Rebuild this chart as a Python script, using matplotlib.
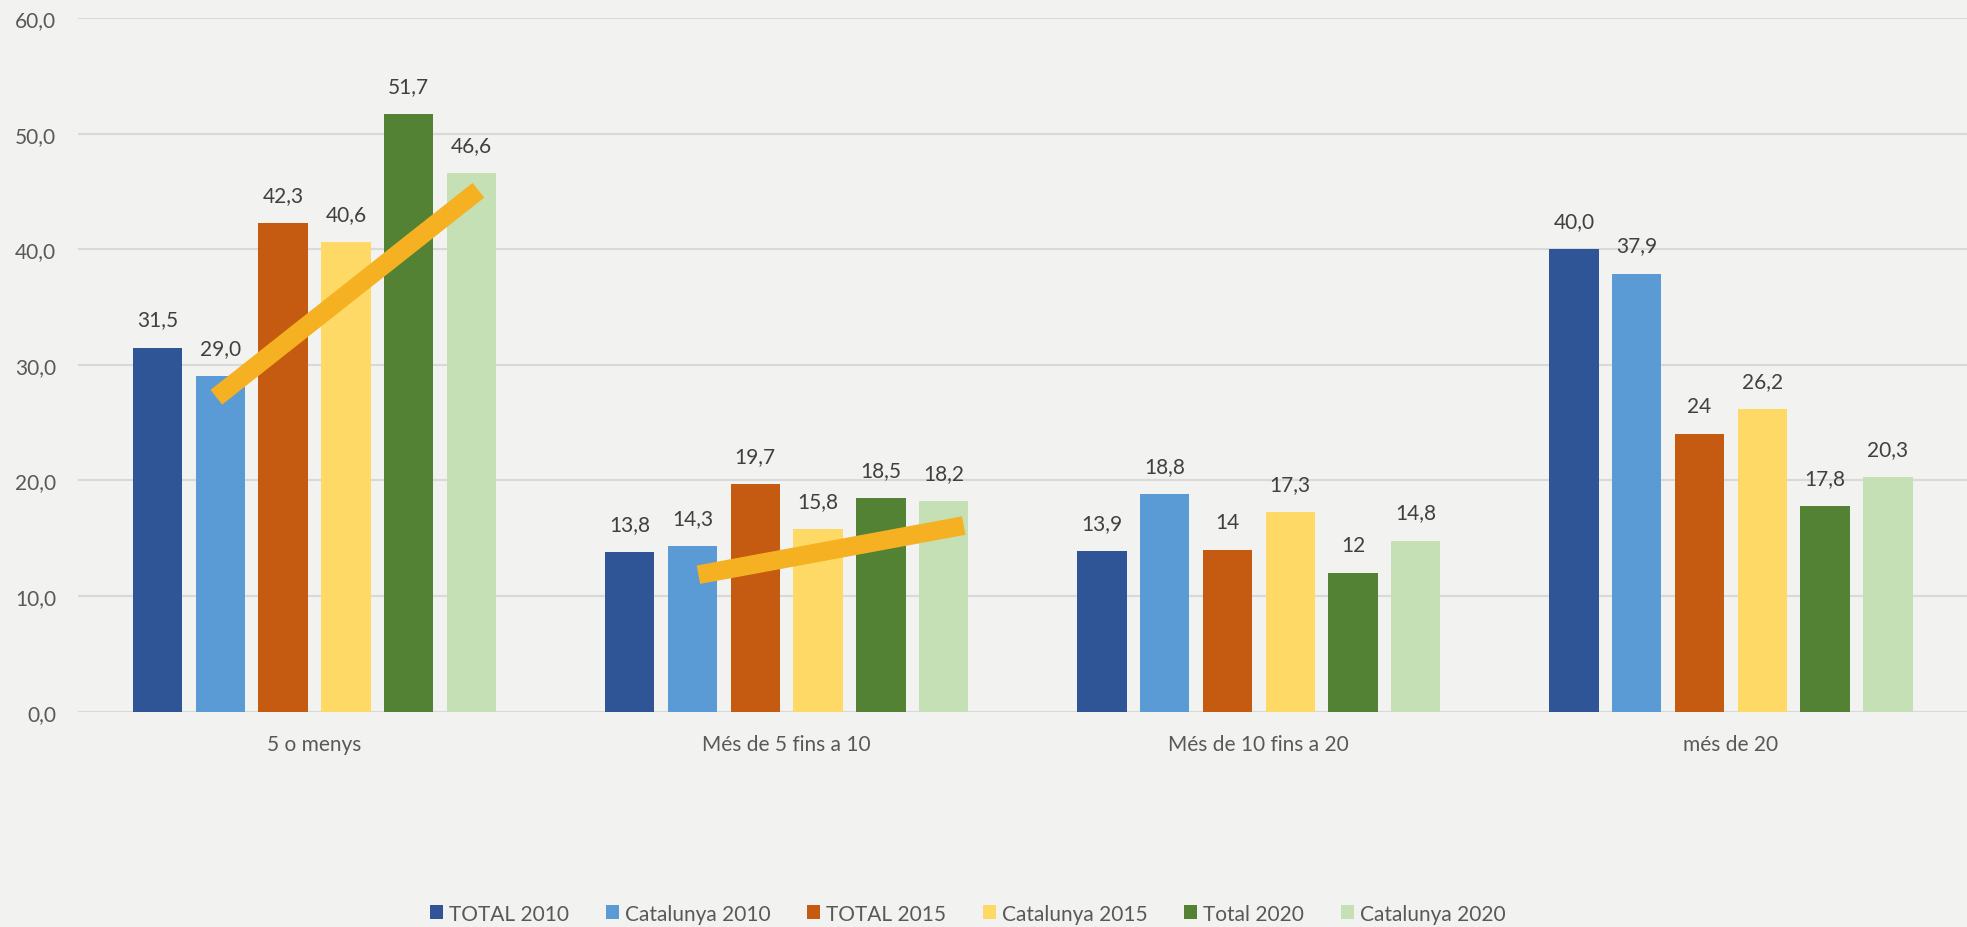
import matplotlib
matplotlib.use("Agg")
import matplotlib.pyplot as plt
import numpy as np

plt.rcParams['font.family'] = ['Lato', 'DejaVu Sans']

categories = ["5 o menys", "Més de 5 fins a 10", "Més de 10 fins a 20", "més de 20"]
series_names = ["TOTAL 2010", "Catalunya 2010", "TOTAL 2015", "Catalunya 2015", "Total 2020", "Catalunya 2020"]
total_2010 = [31.5, 13.8, 13.9, 40.0]
catalunya_2010 = [29.0, 14.3, 18.8, 37.9]
total_2015 = [42.3, 19.7, 14.0, 24.0]
catalunya_2015 = [40.6, 15.8, 17.3, 26.2]
total_2020 = [51.7, 18.5, 12.0, 17.8]
catalunya_2020 = [46.6, 18.2, 14.8, 20.3]
labels_total_2010 = ["31,5", "13,8", "13,9", "40,0"]
labels_catalunya_2010 = ["29,0", "14,3", "18,8", "37,9"]
labels_total_2015 = ["42,3", "19,7", "14", "24"]
labels_catalunya_2015 = ["40,6", "15,8", "17,3", "26,2"]
labels_total_2020 = ["51,7", "18,5", "12", "17,8"]
labels_catalunya_2020 = ["46,6", "18,2", "14,8", "20,3"]
yticks = [0, 10, 20, 30, 40, 50, 60]
ytick_labels = ["0,0", "10,0", "20,0", "30,0", "40,0", "50,0", "60,0"]
# hand-drawn trend strokes (start/end in data coordinates)
trend1_x = [-0.208, 0.347]
trend1_y = [27.2, 45.1]
trend2_x = [0.813, 1.375]
trend2_y = [11.85, 16.1]

colors = ["#2F5597", "#5B9BD5", "#C55A11", "#FFD966", "#548235", "#C5E0B4"]
values = [total_2010, catalunya_2010, total_2015, catalunya_2015, total_2020, catalunya_2020]
labels = [labels_total_2010, labels_catalunya_2010, labels_total_2015,
          labels_catalunya_2015, labels_total_2020, labels_catalunya_2020]

bg = "#F2F2F0"
fig = plt.figure(figsize=(19.67, 9.28), dpi=100, facecolor=bg)
ax = fig.add_axes([0.0399, 0.232, 0.9601, 0.7475])
ax.set_facecolor(bg)

x = np.arange(len(categories))
step = 0.133
width = 0.1046
for i, (vals, col, labs, name) in enumerate(zip(values, colors, labels, series_names)):
    pos = x + (i - 2.5) * step
    bars = ax.bar(pos, vals, width=width, color=col, label=name, zorder=2)
    for b, lab in zip(bars, labs):
        ax.annotate(lab, (b.get_x() + b.get_width() / 2, b.get_height()),
                    xytext=(0, 13), textcoords="offset points",
                    ha="center", va="bottom", fontsize=15, color="#404040", zorder=4)

ax.plot(trend1_x, trend1_y, color="#F5B122", lw=13.5, solid_capstyle="butt", zorder=3)
ax.plot(trend2_x, trend2_y, color="#F5B122", lw=13.5, solid_capstyle="butt", zorder=3)

ax.set_xlim(-0.5, 3.5)
ax.set_ylim(0, 60)
ax.set_yticks(yticks)
ax.set_yticklabels(ytick_labels)
ax.set_xticks(x)
ax.set_xticklabels(categories)
ax.tick_params(axis="y", length=0, pad=16, labelsize=15, labelcolor="#595959")
ax.tick_params(axis="x", length=0, pad=16, labelsize=15, labelcolor="#595959")
ax.grid(axis="y", color="#D9D9D9", lw=1.5, zorder=0)
ax.set_axisbelow(True)
for s in ax.spines.values():
    s.set_visible(False)

fig.legend(loc="center", bbox_to_anchor=(0.492, 0.0145), ncol=6, frameon=False,
           fontsize=15, labelcolor="#595959", handlelength=0.625, handleheight=0.625,
           handletextpad=0.3, columnspacing=1.75)

fig.savefig("out.png", dpi=100, facecolor=bg)
